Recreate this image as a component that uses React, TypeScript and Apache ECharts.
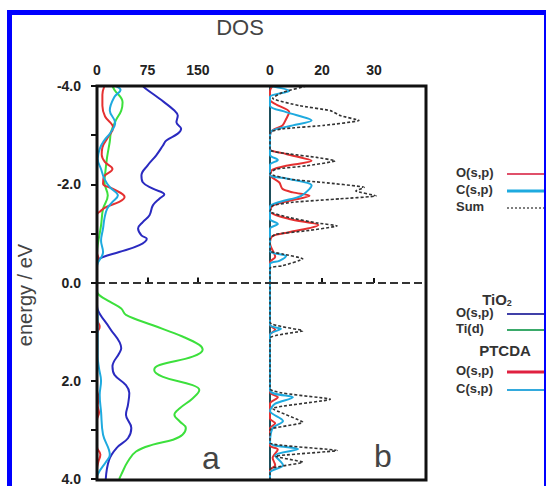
import React, { useEffect, useRef } from 'react';
import * as echarts from 'echarts';

const FONT = 'Arial, "Liberation Sans", Helvetica, sans-serif';

// Axis ticks / labels
const energyLabelValues = [-4, -2, 0, 2, 4];
const panelATicks = [0, 75, 150];
const panelBTicks = [0, 10, 20];
const panelBTickLabels = ['0', '20', '30'];

// Panel a: [DOS, energy]
const tio2O: number[][] = [
  [68, -4.0], [73, -3.94], [93, -3.74], [115, -3.5], [120, -3.4], [118, -3.26], [125, -3.13], [120, -3.03],
  [103, -2.89], [98, -2.79], [88, -2.59], [75, -2.38], [66, -2.18], [68, -2.04], [83, -1.91], [100, -1.79],
  [93, -1.71], [83, -1.57], [78, -1.37], [68, -1.23], [61, -1.1], [66, -0.96], [74, -0.89], [63, -0.76],
  [33, -0.62], [9, -0.52], [1, -0.45], [0, -0.35], [0, 0.45], [1, 0.55], [19, 0.93], [36, 1.34], [33, 1.44],
  [23, 1.71], [26, 1.88], [43, 2.09], [48, 2.25], [46, 2.49], [43, 2.69], [51, 2.96], [46, 3.17], [29, 3.37],
  [18, 3.61], [13, 4.0],
];
const tio2Ti: number[][] = [
  [23, -4.0], [26, -3.92], [38, -3.67], [36, -3.5], [28, -3.3], [21, -3.07], [19, -2.87], [15, -2.55],
  [12, -2.2], [11, -2.04], [16, -1.77], [9, -1.5], [6, -1.16], [1, -0.76], [0, -0.6], [0, 0.15], [1, 0.22],
  [19, 0.39], [36, 0.53], [43, 0.66], [83, 0.87], [127, 1.1], [152, 1.27], [157, 1.37], [142, 1.51], [93, 1.68],
  [85, 1.78], [98, 1.92], [142, 2.09], [152, 2.19], [142, 2.36], [123, 2.56], [115, 2.69], [123, 2.83],
  [132, 2.96], [127, 3.1], [113, 3.2], [83, 3.3], [58, 3.44], [46, 3.64], [36, 3.91], [33, 4.0],
];
const ptcdaOa: number[][] = [
  [11, -4.0], [8, -3.82], [8, -3.6], [12, -3.38], [24, -3.15], [16, -2.95], [8, -2.75], [7, -2.6], [12, -2.45],
  [23, -2.31], [10, -2.15], [9, -2.01], [23, -1.91], [41, -1.74], [33, -1.64], [14, -1.54], [4, -1.44],
  [0, -1.38], [0, -0.6], [2, -0.5], [0, -0.42], [0, 0.75], [4, 0.9], [0, 1.05], [0, 2.2], [3, 2.35], [1, 2.5],
  [3, 2.65], [0, 2.8], [0, 3.35], [5, 3.5], [2, 3.65], [0, 3.8], [0, 4.0],
];
const ptcdaCa: number[][] = [
  [28, -4.0], [35, -3.92], [26, -3.78], [19, -3.5], [27, -3.25], [20, -3.05], [10, -2.88], [4, -2.72],
  [1, -2.52], [6, -2.31], [11, -2.11], [19, -1.94], [31, -1.77], [23, -1.64], [15, -1.5], [11, -1.3], [9, -1.1],
  [6, -0.85], [9, -0.62], [1, -0.39], [0, -0.3], [0, 0.5], [1, 0.7], [1, 1.5], [3, 1.75], [6, 2.0], [4, 2.29],
  [6, 2.63], [9, 3.1], [19, 3.51], [14, 3.64], [1, 3.91], [0, 4.0],
];

// Panel b: [DOS, energy]
const ptcdaOb: number[][] = [
  [0.5, -4.0], [0, -3.9], [0, -3.72], [1.1, -3.63], [3.7, -3.47], [3.1, -3.33], [2.4, -3.2], [0.5, -3.1],
  [0, -3.0], [0, -2.72], [3.1, -2.62], [8, -2.48], [3.1, -2.38], [0.5, -2.3], [0, -2.2], [1.8, -2.04],
  [2.4, -1.91], [4.4, -1.84], [7.6, -1.77], [3.7, -1.67], [0.5, -1.57], [0, -1.45], [3.7, -1.3], [9.3, -1.18],
  [3.7, -1.03], [0.5, -0.95], [0, -0.8], [1, -0.53], [0, -0.42], [0, 0.85], [1, 0.95], [0, 1.05], [0, 2.22],
  [1.5, 2.32], [0, 2.45], [0, 2.75], [1, 2.85], [0, 2.95], [0, 3.3], [1.5, 3.38], [0.5, 3.55], [1, 3.7],
  [0, 3.8], [0, 4.0],
];
const ptcdaCb: number[][] = [
  [0, -4.0], [3.7, -3.9], [0, -3.78], [0, -3.6], [3.1, -3.47], [8, -3.3], [4.4, -3.2], [0.5, -3.1], [0, -3.0],
  [0, -2.6], [1.5, -2.5], [0, -2.4], [0, -2.2], [3.7, -2.11], [8, -1.98], [6, -1.77], [2, -1.65], [0, -1.55],
  [0, -1.3], [1.5, -1.2], [0, -1.1], [0, -0.65], [3.1, -0.55], [1.8, -0.45], [0, -0.38], [0, 0.85],
  [2.1, 0.93], [0, 1.05], [0, 2.18], [4.4, 2.32], [1, 2.45], [0, 2.6], [2.5, 2.8], [0.5, 2.95], [0, 3.25],
  [5.4, 3.37], [1, 3.5], [2.5, 3.7], [0, 3.85], [0, 4.0],
];
const sumB: number[][] = [
  [7, -4.0], [2.4, -3.87], [0.5, -3.75], [5.7, -3.6], [11.6, -3.5], [13.5, -3.4], [17.1, -3.3], [10.3, -3.2],
  [2.4, -3.13], [0, -3.06], [0, -2.7], [3.7, -2.62], [9, -2.55], [12.5, -2.48], [7, -2.38], [1.1, -2.31],
  [0, -2.22], [3.7, -2.11], [10.3, -2.04], [18.1, -1.94], [16.5, -1.87], [20.4, -1.77], [13.5, -1.71],
  [4.4, -1.64], [0.5, -1.57], [0, -1.45], [3.7, -1.33], [9, -1.22], [12.9, -1.16], [7, -1.06], [1.1, -0.99],
  [0, -0.9], [0, -0.65], [2.4, -0.59], [6.3, -0.49], [2.4, -0.35], [0, -0.3], [0, 0.8], [6.3, 0.97],
  [0, 1.12], [0, 2.15], [11.6, 2.36], [0.5, 2.55], [6.3, 2.83], [0, 2.98], [0, 3.25], [12.9, 3.4], [1, 3.52],
  [6.3, 3.64], [0, 3.78], [0, 4.0],
];

const legendBLabels = ['O(s,p)', 'C(s,p)', 'Sum'];
const legendTiO2Labels = ['O(s,p)', 'Ti(d)'];
const legendPTCDALabels = ['O(s,p)', 'C(s,p)'];

const C_BLUE = '#2a2ac0';
const C_GREEN = '#3ce03c';
const C_RED = '#e53030';
const C_CYAN = '#1eaadf';
const C_SUM = '#333333';

export default function App() {
  const ref = useRef<HTMLDivElement>(null);
  useEffect(() => {
    const chart = echarts.init(ref.current!, null, { renderer: 'svg' });

    const line = (name: string, data: number[][], color: string, idx: number, extra: any = {}) => ({
      type: 'line',
      name,
      data,
      xAxisIndex: idx,
      yAxisIndex: idx,
      symbol: 'none',
      showSymbol: false,
      smooth: 0.4,
      lineStyle: { color, width: 2 },
      itemStyle: { color },
      ...extra,
    });

    const zeroLine = {
      silent: true,
      symbol: 'none',
      label: { show: false },
      lineStyle: { color: '#333', type: [8, 4], width: 2 },
      data: [{ yAxis: 0 }],
    };

    const yAxisBase = {
      type: 'value',
      min: -4,
      max: 4,
      interval: 1,
      inverse: true,
      splitLine: { show: false },
    };

    const xLabelStyle = {
      fontSize: 14,
      fontWeight: 'bold',
      color: '#222',
      fontFamily: FONT,
      margin: 9,
    };

    const legendRow = (label: string, y: number, color: string, dashed = false, width = 2) => [
      {
        type: 'text',
        left: 456,
        top: y - 8,
        style: { text: label, font: `bold 13px ${FONT}`, fill: '#333' },
        z: 50,
      },
      {
        type: 'line',
        shape: { x1: 507, y1: y, x2: 548, y2: y },
        style: { stroke: color, lineWidth: dashed ? 1.5 : width, lineDash: dashed ? [2, 2] : null },
        z: 50,
      },
    ];

    const graphics: any[] = [
      {
        type: 'rect',
        shape: { x: 97, y: 86, width: 329, height: 394 },
        style: { fill: 'none', stroke: '#111', lineWidth: 3 },
        z: 60,
      },
      {
        type: 'rect',
        shape: { x: 9.5, y: 12.5, width: 537, height: 500 },
        style: { fill: 'none', stroke: '#0000ff', lineWidth: 5 },
        z: 70,
      },
      {
        type: 'text',
        x: 240,
        y: 27,
        style: { text: 'DOS', font: `22px ${FONT}`, fill: '#444', textAlign: 'center', textVerticalAlign: 'middle' },
        z: 50,
      },
      {
        type: 'text',
        x: 25,
        y: 295,
        rotation: Math.PI / 2,
        style: { text: 'energy / eV', font: `20px ${FONT}`, fill: '#444', textAlign: 'center', textVerticalAlign: 'middle' },
        z: 50,
      },
      {
        type: 'text',
        x: 211,
        y: 458,
        style: { text: 'a', font: `32px ${FONT}`, fill: '#444', textAlign: 'center', textVerticalAlign: 'middle' },
        z: 50,
      },
      {
        type: 'text',
        x: 383,
        y: 456,
        style: { text: 'b', font: `32px ${FONT}`, fill: '#444', textAlign: 'center', textVerticalAlign: 'middle' },
        z: 50,
      },
      ...legendRow(legendBLabels[0], 174, '#e0506a'),
      ...legendRow(legendBLabels[1], 191, C_CYAN, false, 3),
      ...legendRow(legendBLabels[2], 208, '#555', true),
      {
        type: 'text',
        x: 497,
        y: 299,
        style: {
          text: '{a|TiO}{b|2}',
          textAlign: 'center',
          textVerticalAlign: 'middle',
          rich: {
            a: { font: `bold 15px ${FONT}`, fill: '#333' },
            b: { font: `bold 9px ${FONT}`, fill: '#333', padding: [8, 0, 0, 0] },
          },
        },
        z: 50,
      },
      ...legendRow(legendTiO2Labels[0], 314, '#4040a8'),
      ...legendRow(legendTiO2Labels[1], 330, '#3aaa6a'),
      {
        type: 'text',
        x: 505,
        y: 350,
        style: { text: 'PTCDA', font: `bold 15px ${FONT}`, fill: '#333', textAlign: 'center', textVerticalAlign: 'middle' },
        z: 50,
      },
      ...legendRow(legendPTCDALabels[0], 372, '#e02040', false, 3),
      ...legendRow(legendPTCDALabels[1], 390, '#33aadd'),
    ];

    chart.setOption({
      animation: false,
      backgroundColor: '#ffffff',
      grid: [
        { left: 97, top: 86, width: 173, height: 394 },
        { left: 270, top: 86, width: 156, height: 394 },
      ],
      xAxis: [
        {
          type: 'value',
          gridIndex: 0,
          position: 'top',
          min: 0,
          max: 257,
          interval: 75,
          axisLine: { show: false },
          axisTick: { show: true, length: 5, lineStyle: { color: '#111', width: 2 }, customValues: panelATicks },
          axisLabel: { ...xLabelStyle, customValues: panelATicks },
          splitLine: { show: false },
        },
        {
          type: 'value',
          gridIndex: 1,
          position: 'top',
          min: 0,
          max: 30,
          interval: 10,
          axisLine: { show: false },
          axisTick: { show: true, length: 5, lineStyle: { color: '#111', width: 2 }, customValues: panelBTicks },
          axisLabel: {
            ...xLabelStyle,
            customValues: panelBTicks,
            formatter: (v: number) => {
              const i = panelBTicks.indexOf(Math.round(v));
              return i >= 0 ? panelBTickLabels[i] : '';
            },
          },
          splitLine: { show: false },
        },
      ],
      yAxis: [
        {
          ...yAxisBase,
          gridIndex: 0,
          axisLine: { show: false },
          axisTick: { show: true, inside: false, length: 6, lineStyle: { color: '#111', width: 2 } },
          axisLabel: {
            fontSize: 14,
            fontWeight: 'bold',
            color: '#222',
            fontFamily: FONT,
            margin: 16,
            formatter: (v: number) => (energyLabelValues.includes(Math.round(v)) && Math.abs(v - Math.round(v)) < 1e-6 ? v.toFixed(1) : ''),
          },
        },
        {
          ...yAxisBase,
          gridIndex: 1,
          axisLine: { show: true, lineStyle: { color: '#1d4f5c', width: 2 } },
          axisTick: { show: false },
          axisLabel: { show: false },
        },
      ],
      series: [
        line('TiO2 O(s,p)', tio2O, C_BLUE, 0, { markLine: zeroLine }),
        line('TiO2 Ti(d)', tio2Ti, C_GREEN, 0),
        line('PTCDA O(s,p)', ptcdaOa, C_RED, 0),
        line('PTCDA C(s,p)', ptcdaCa, C_CYAN, 0),
        line('O(s,p)', ptcdaOb, C_RED, 1, { smooth: 0.3, markLine: zeroLine }),
        line('C(s,p)', ptcdaCb, C_CYAN, 1, { smooth: 0.3 }),
        line('Sum', sumB, C_SUM, 1, { smooth: 0.15, lineStyle: { color: C_SUM, width: 1.6, type: [3, 2] } }),
      ],
      graphic: graphics,
    });

    return () => chart.dispose();
  }, []);

  return (
    <div
      ref={ref}
      style={{ position: 'absolute', left: 0, top: 0, width: 546, height: 486, background: '#fff' }}
    />
  );
}
